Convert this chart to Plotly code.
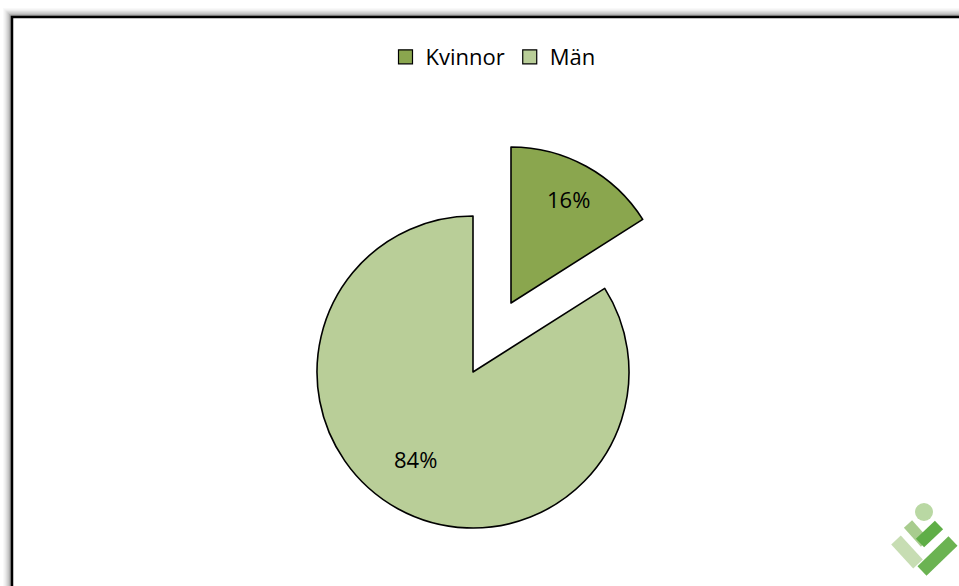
import math
import plotly.graph_objects as go

W, H = 959, 586

# data
labels = ['Kvinnor', 'Män']
values = [16, 84]
colors = ['#8aa64e', '#b9ce98']
clear = 'rgba(0,0,0,0)'


def px(x):
    return x / W


def py(y):
    return 1 - y / H


def dom(cx, cy, r):
    return dict(x=[px(cx - r), px(cx + r)], y=[py(cy + r), py(cy - r)])


def bar(x0, y0, x1, y1, w):
    # rotated rectangle between two points, in pixels -> paper path
    dx, dy = x1 - x0, y1 - y0
    n = math.hypot(dx, dy)
    ox, oy = -dy / n * w / 2, dx / n * w / 2
    pts = [(x0 + ox, y0 + oy), (x1 + ox, y1 + oy), (x1 - ox, y1 - oy), (x0 - ox, y0 - oy)]
    return 'M ' + ' L '.join(f'{px(a):.5f},{py(b):.5f}' for a, b in pts) + ' Z'


R = 156
centers = [(511, 303), (473, 372)]  # Kvinnor pulled out, Män in place
pie_common = dict(labels=labels, values=values, sort=False, direction='clockwise', rotation=0,
                  textinfo='none', showlegend=False, hoverinfo='label+percent')

fig = go.Figure()
# Män slice
fig.add_trace(go.Pie(**pie_common, domain=dom(*centers[1], R),
                     marker=dict(colors=[clear, colors[1]],
                                 line=dict(color=[clear, 'black'], width=1.6))))
# Kvinnor slice
fig.add_trace(go.Pie(**pie_common, domain=dom(*centers[0], R),
                     marker=dict(colors=[colors[0], clear],
                                 line=dict(color=['black', clear], width=1.6))))

# percentage labels placed along each slice's middle angle
annotations = []
total = sum(values)
start = 0
for v, (cx, cy) in zip(values, centers):
    mid = math.radians((start + v / 2) / total * 360)
    start += v
    r = 0.76 * R
    annotations.append(dict(x=px(cx + r * math.sin(mid)), y=py(cy - r * math.cos(mid)),
                            xref='paper', yref='paper', showarrow=False,
                            text=f'{round(v / total * 100)}%',
                            font=dict(family='Open Sans', size=22, color='black')))

# legend entries
for lab, c in zip(labels, colors):
    fig.add_trace(go.Scatter(x=[None], y=[None], mode='markers', name=lab,
                             marker=dict(symbol='square', size=14, color=c,
                                         line=dict(color='black', width=1.2))))

shapes = []
# frame shadow
for i, a in enumerate([0.025, 0.035, 0.045, 0.06, 0.08, 0.1, 0.13]):
    off = 9 - i * 1.2
    shapes.append(dict(type='rect', x0=px(12 - off), x1=px(W + 20),
                       y0=py(H + 20), y1=py(17 - off), line=dict(width=0),
                       fillcolor=f'rgba(0,0,0,{a})', layer='below'))
shapes.append(dict(type='rect', x0=px(12), x1=px(W + 20),
                   y0=py(H + 20), y1=py(17), fillcolor='white',
                   line=dict(color='black', width=2.5), layer='below'))

# logo
shapes.append(dict(type='path', path=bar(896, 540, 918, 564, 13), fillcolor='#c7ddb3', line=dict(width=0)))
shapes.append(dict(type='path', path=bar(908, 524, 925, 543, 11), fillcolor='#a8cc8e', line=dict(width=0)))
shapes.append(dict(type='path', path=bar(939, 525, 920, 543, 12), fillcolor='#5fae47', line=dict(width=0)))
shapes.append(dict(type='path', path=bar(953, 541, 922, 571, 13), fillcolor='#6bb352', line=dict(width=0)))
shapes.append(dict(type='circle', x0=px(915), x1=px(933), y0=py(521), y1=py(503),
                   fillcolor='#b9d8a3', line=dict(width=0)))
for s in shapes:
    s['xref'] = 'paper'
    s['yref'] = 'paper'

fig.update_layout(
    width=W, height=H, margin=dict(l=0, r=0, t=0, b=0),
    paper_bgcolor='white', plot_bgcolor='rgba(0,0,0,0)',
    xaxis=dict(visible=False), yaxis=dict(visible=False),
    legend=dict(orientation='h', x=px(493), xanchor='center', y=py(36), yanchor='top',
                font=dict(family='Open Sans', size=22, color='black'),
                bgcolor='rgba(0,0,0,0)', itemclick=False),
    shapes=shapes, annotations=annotations,
)

# the page body has a default 8px margin; remove it so the figure fills the window
fig.write_html('out.html', config={'displayModeBar': False},
               post_script="document.body.style.margin='0';")
